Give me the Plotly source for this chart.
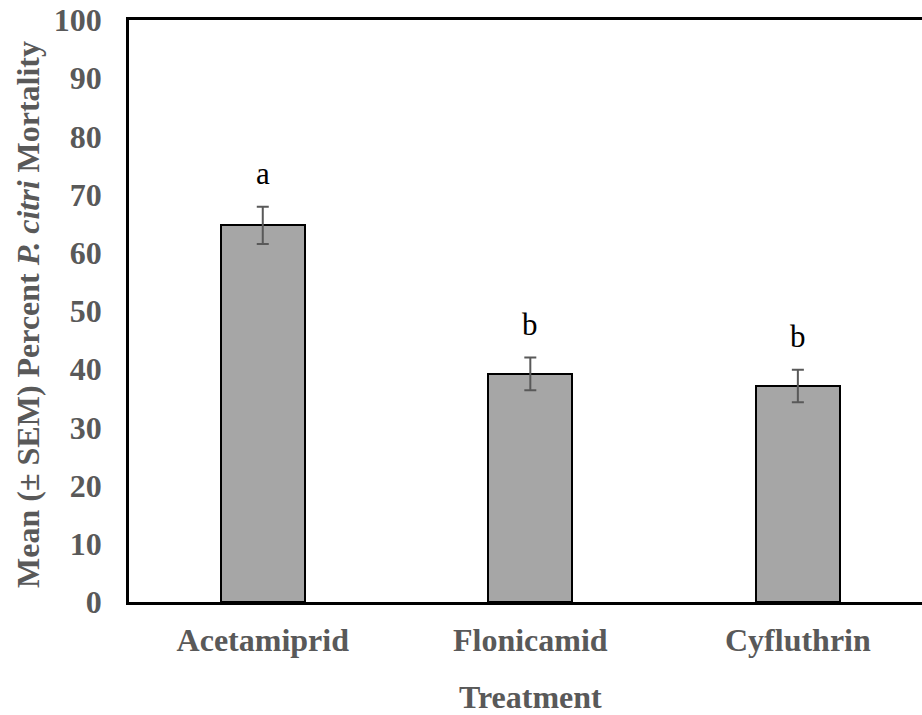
import plotly.graph_objects as go

treatments = ["Acetamiprid", "Flonicamid", "Cyfluthrin"]
mean_mortality = [64.7, 39.2, 37.1]
sem_mortality = [3.2, 2.8, 2.8]
letters = ["a", "b", "b"]
y_ticks = [0, 10, 20, 30, 40, 50, 60, 70, 80, 90, 100]

GREY = "#595959"
FONT = "Liberation Serif"

fig = go.Figure()
fig.add_trace(go.Bar(
    x=list(range(len(treatments))),
    y=mean_mortality,
    width=0.314,
    marker=dict(color="#A6A6A6", line=dict(color="black", width=2)),
    error_y=dict(type="data", array=sem_mortality, visible=True,
                 color=GREY, thickness=2, width=6),
    showlegend=False,
))

for i, (m, s, l) in enumerate(zip(mean_mortality, sem_mortality, letters)):
    fig.add_annotation(x=i, y=m + s, xref="x", yref="y", text=l,
                       showarrow=False, yanchor="middle", yshift=33,
                       font=dict(family=FONT, size=31, color="black"))

fig.add_annotation(xref="paper", yref="paper", x=-0.1274, y=0.495,
                   text="<b>Mean (± SEM) Percent <i>P. citri</i> Mortality</b>",
                   textangle=-90, showarrow=False, xanchor="center", yanchor="middle",
                   font=dict(family=FONT, size=32, color=GREY))
fig.add_annotation(xref="x", yref="paper", x=1, y=-0.163,
                   text="<b>Treatment</b>", showarrow=False,
                   xanchor="center", yanchor="middle",
                   font=dict(family=FONT, size=32, color=GREY))

fig.update_layout(
    width=922, height=715,
    margin=dict(l=129, r=0, t=20, b=113),
    plot_bgcolor="white", paper_bgcolor="white",
    bargap=0,
)
fig.update_xaxes(
    range=[-0.5, 2.464],
    tickmode="array", tickvals=list(range(len(treatments))),
    ticktext=[f"<b>{t}</b>" for t in treatments],
    tickfont=dict(family=FONT, size=32, color=GREY),
    showline=True, linecolor="black", linewidth=2.5, mirror=True,
    ticks="outside", ticklen=8, tickcolor="rgba(0,0,0,0)",
    showgrid=False, zeroline=False,
)
fig.update_yaxes(
    range=[0, 100],
    tickmode="array", tickvals=y_ticks,
    ticktext=[f"<b>{v}</b>" for v in y_ticks],
    tickfont=dict(family=FONT, size=32, color=GREY),
    showline=True, linecolor="black", linewidth=2.5, mirror=False,
    ticks="outside", ticklen=18, tickcolor="rgba(0,0,0,0)",
    showgrid=False, zeroline=False,
)

fig.write_html("out.html")
